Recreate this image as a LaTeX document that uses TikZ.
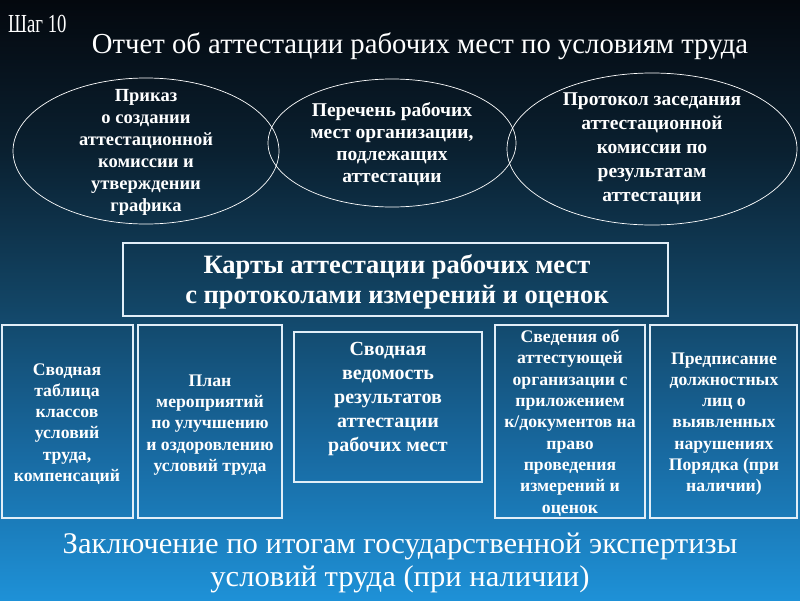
\documentclass[tikz,border=0pt]{standalone}
\usepackage{fontspec}
\setmainfont{Liberation Serif}
\usetikzlibrary{shapes.geometric}
\definecolor{cT}{RGB}{4,8,14}
\definecolor{cA}{RGB}{10,32,48}
\definecolor{cM}{RGB}{18,68,100}
\definecolor{cC}{RGB}{24,105,160}
\definecolor{cB}{RGB}{30,145,215}
\definecolor{edge}{RGB}{225,238,248}
\pgfdeclareverticalshading{bgsh}{100bp}{color(0bp)=(cB); color(25bp)=(cB); color(37.5bp)=(cC); color(50bp)=(cM); color(62.5bp)=(cA); color(75bp)=(cT); color(100bp)=(cT)}
\tikzset{
  ell/.style={ellipse, draw=white, line width=0.7pt, inner sep=0pt},
  etext/.style={text=white, align=center, font=\fontsize{18.5}{22}\selectfont\bfseries, inner sep=0pt},
  rbox/.style={draw=edge, line width=1.2pt, inner sep=0pt},
  btext/.style={text=white, align=center, font=\fontsize{17.7}{21.3}\selectfont\bfseries, inner sep=0pt},
  ttext/.style={text=white, inner sep=0pt}
}
\begin{document}
\begin{tikzpicture}[x=1pt,y=-1pt]
\shade[shading=bgsh] (0,0) rectangle (800,600);
\useasboundingbox (0,0) rectangle (800,600);

\node[ttext, anchor=west, font=\fontsize{26}{26}\selectfont] (step) at (8,24) {\scalebox{0.72}[1]{Шаг 10}};
\node[ttext, font=\fontsize{29}{29}\selectfont] (title) at (420,46) {\scalebox{0.99}[1]{Отчет об аттестации рабочих мест по условиям труда}};

\node[ell, minimum width=266pt, minimum height=146pt] (e1) at (146,151) {};
\node[ell, minimum width=248pt, minimum height=128pt] (e2) at (392,143) {};
\node[ell, minimum width=290pt, minimum height=152pt] (e3) at (652,149) {};

\node[etext] (t1) at (146,152) {Приказ\\о создании\\аттестационной\\комиссии и\\утверждении\\графика};
\node[etext, font=\fontsize{19.5}{22}\selectfont\bfseries] (t2) at (392,144) {Перечень рабочих\\мест организации,\\подлежащих\\аттестации};
\node[etext, font=\fontsize{19.5}{24}\selectfont\bfseries] (t3) at (652,149) {Протокол заседания\\аттестационной\\комиссии по\\результатам\\аттестации};

\node[rbox, minimum width=545pt, minimum height=73pt] (maps) at (395.5,279.5) {};
\node[text=white, align=center, font=\fontsize{26.5}{30}\selectfont\bfseries, inner sep=0pt] (mapst) at (397,282) {Карты аттестации рабочих мест\\с протоколами измерений и оценок};

\node[rbox, minimum width=131pt, minimum height=193pt] (b1) at (67.5,421.5) {};
\node[rbox, minimum width=144pt, minimum height=193pt] (b2) at (210,421.5) {};
\node[rbox, minimum width=188pt, minimum height=150pt] (b3) at (388,407) {};
\node[rbox, minimum width=150pt, minimum height=193pt] (b4) at (570,421.5) {};
\node[rbox, minimum width=147pt, minimum height=193pt] (b5) at (723.5,421.5) {};

\node[btext] (bt1) at (67,424) {Сводная\\таблица\\классов\\условий\\труда,\\компенсаций};
\node[btext] (bt2) at (210,425) {План\\мероприятий\\по улучшению\\и оздоровлению\\условий труда};
\node[btext, font=\fontsize{20}{24}\selectfont\bfseries] (bt3) at (388,399) {Сводная\\ведомость\\результатов\\аттестации\\рабочих мест};
\node[btext] (bt4) at (570,423) {Сведения об\\аттестующей\\организации с\\приложением\\к/документов на\\право\\проведения\\измерений и\\оценок};
\node[btext] (bt5) at (724,424) {Предписание\\должностных\\лиц о\\выявленных\\нарушениях\\Порядка (при\\наличии)};

\node[text=white, align=center, inner sep=0pt, font=\fontsize{30}{33}\selectfont] (concl) at (400,563) {\scalebox{1.02}[1]{Заключение по итогам государственной экспертизы}\\\scalebox{1.02}[1]{условий труда (при наличии)}};
\end{tikzpicture}
\end{document}
